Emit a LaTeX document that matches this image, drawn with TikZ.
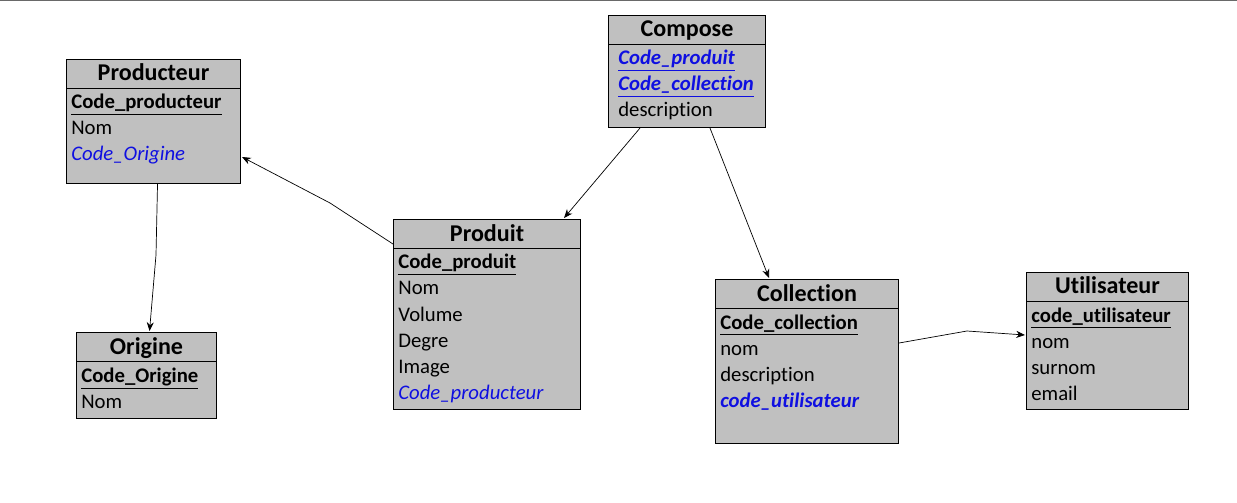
\documentclass[tikz,border=0pt]{standalone}
\usepackage{fontspec}
\setmainfont{Carlito}[Ligatures=NoCommon]
\usetikzlibrary{calc,arrows.meta}
\definecolor{boxgray}{RGB}{192,192,192}
\definecolor{fkblue}{RGB}{15,15,225}
\definecolor{rulegray}{RGB}{105,105,105}

% table frame: name, x, y, width, height, title (pixel units)
\newcommand\entity[6]{%
  \node[entbox, minimum width=#4*0.02cm, minimum height=#5*0.02cm] (#1) at (#2,#3) {};
  \node[etitle] (#1-t) at ($(#1.north)+(0,22)$) {#6};
  \draw[line width=0.5pt] ($(#1.north west)+(0,29)$) -- ($(#1.north east)+(0,29)$);
}

\begin{document}
\begin{tikzpicture}[x=0.02cm, y=-0.02cm,
  entbox/.style={draw=black, fill=boxgray, line width=0.6pt, anchor=north west, inner sep=0pt},
  etitle/.style={anchor=base, inner sep=0pt, font=\fontsize{13.7}{16}\selectfont\bfseries},
  attr/.style={anchor=base west, inner sep=0pt, font=\fontsize{11.8}{14}\selectfont},
  pkey/.style={attr, font=\fontsize{11.8}{14}\selectfont\bfseries},
  fkey/.style={attr, text=fkblue, font=\fontsize{11.8}{14}\selectfont\itshape},
  fpkey/.style={attr, text=fkblue, font=\fontsize{11.8}{14}\selectfont\bfseries\itshape},
  link/.style={line width=0.4pt, -{Stealth[length=5pt, width=4pt]}}]
  \useasboundingbox (0,0) rectangle (1237,503);
  %%%%% START %%%%%

  \draw[rulegray, line width=0.9pt] (0,0.5) -- (1237,0.5);

  \entity{prod}{66}{59}{174}{124}{Producteur}
  \node[pkey] (prod-1) at ($(prod.north west)+(5,50)$) {\underline{Code\_producteur}};
  \node[attr] (prod-2) at ($(prod.north west)+(5,76)$) {Nom};
  \node[fkey] (prod-3) at ($(prod.north west)+(5,102)$) {Code\_Origine};

  \entity{orig}{76}{332}{140}{86}{Origine}
  \node[pkey] (orig-1) at ($(orig.north west)+(5,50)$) {\underline{Code\_Origine}};
  \node[attr] (orig-2) at ($(orig.north west)+(5,76)$) {Nom};

  \entity{compose}{608}{15}{157}{112}{Compose}
  \node[fpkey] (compose-1) at ($(compose.north west)+(10,50)$) {\underline{Code\_produit}};
  \node[fpkey] (compose-2) at ($(compose.north west)+(10,76)$) {\underline{Code\_collection}};
  \node[attr] (compose-3) at ($(compose.north west)+(10,102)$) {description};

  \entity{produit}{393}{219}{187}{190}{Produit}
  \node[pkey] (produit-1) at ($(produit.north west)+(5,50)$) {\underline{Code\_produit}};
  \node[attr] (produit-2) at ($(produit.north west)+(5,76)$) {Nom};
  \node[attr] (produit-3) at ($(produit.north west)+(5,102)$) {Volume};
  \node[attr] (produit-4) at ($(produit.north west)+(5,128)$) {Degre};
  \node[attr] (produit-5) at ($(produit.north west)+(5,154)$) {Image};
  \node[fkey] (produit-6) at ($(produit.north west)+(5,180)$) {Code\_producteur};

  \entity{coll}{715}{279}{183}{164}{Collection}
  \node[pkey] (coll-1) at ($(coll.north west)+(5,50)$) {\underline{Code\_collection}};
  \node[attr] (coll-2) at ($(coll.north west)+(5,76)$) {nom};
  \node[attr] (coll-3) at ($(coll.north west)+(5,102)$) {description};
  \node[fpkey] (coll-4) at ($(coll.north west)+(5,128)$) {code\_utilisateur};

  \entity{user}{1026}{272}{162}{137}{Utilisateur}
  \node[pkey] (user-1) at ($(user.north west)+(5,50)$) {\underline{code\_utilisateur}};
  \node[attr] (user-2) at ($(user.north west)+(5,76)$) {nom};
  \node[attr] (user-3) at ($(user.north west)+(5,102)$) {surnom};
  \node[attr] (user-4) at ($(user.north west)+(5,128)$) {email};

  % links
  \coordinate (k1) at (330,203);
  \coordinate (k2) at (156,255);
  \coordinate (k3) at (967,331);
  \draw[link] ($(produit.north west)+(0,25)$) -- (k1) -- ($(prod.north east)+(1,98)$);
  \draw[link] ($(prod.south)+(4,0)$) -- (k2) -- ($(orig.north)+(3,-1)$);
  \draw[link] ($(compose.south west)+(32,0)$) -- ($(produit.north east)+(-17,-1)$);
  \draw[link] ($(compose.south west)+(102,0)$) -- ($(coll.north west)+(54,-1)$);
  \draw[link] ($(coll.north east)+(0,64)$) -- (k3) -- ($(user.north west)+(-1,63)$);

  %%%%% END %%%%%
\end{tikzpicture}
\end{document}
